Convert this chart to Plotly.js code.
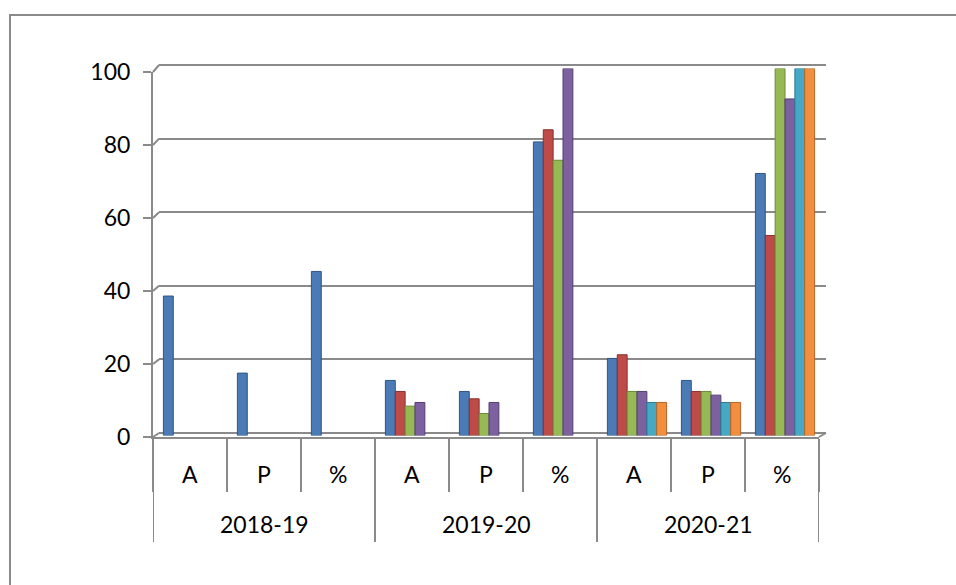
<!DOCTYPE html>
<html><head><meta charset="utf-8">
<script src="https://cdn.plot.ly/plotly-3.0.1.min.js"></script>
<style>
html,body{margin:0;padding:0;background:#fff;overflow:hidden;}
#chart{width:956px;height:585px;}
#frame{position:absolute;left:9px;top:14px;width:2000px;height:2000px;border-left:2px solid #8a8a8a;border-top:2px solid #8a8a8a;pointer-events:none;z-index:5;}
</style></head><body>
<div id="chart"></div><div id="frame"></div>
<script>
// ---- data ----
const years = ['2018-19', '2019-20', '2020-21'];
const subs = ['A', 'P', '%'];
const yTicks = [0, 20, 40, 60, 80, 100];
const series1 = [38, 17, 44.7, 15, 12, 80, 21, 15, 71.4];
const series2 = [null, null, null, 12, 10, 83.3, 22, 12, 54.5];
const series3 = [null, null, null, 8, 6, 75, 12, 12, 100];
const series4 = [null, null, null, 9, 9, 100, 12, 11, 91.7];
const series5 = [null, null, null, null, null, null, 9, 9, 100];
const series6 = [null, null, null, null, null, null, 9, 9, 100];
const seriesColors = ['#4a7bb7', '#bf4b48', '#97b955', '#7c60a0', '#45a8c4', '#f28f3f'];
const seriesEdges = ['#2f5582', '#8a302e', '#6a8a36', '#553f74', '#2b7a90', '#b8652a'];

// ---- geometry (pixels of the 956x585 page) ----
const L = 153, R = 826, T = 60, B = 437;
const PW = R - L, PH = B - T;
const px = v => (v - L) / PW;
const py = v => (B - v) / PH;
const frontX = [px(153), px(819)];
const backX = [px(159), px(826)];
const barX = [px(156), px(822)];
const frontY = [py(437), py(72)];
const backRange = [-0.5, 100.5];
const backY = [py(433 + 0.5 * 3.68), py(65 - 0.5 * 3.68)];
const barY = [py(435.5), py(68.5)];
const gray = '#8a8a8a';
const lw = 2;
const font = {family: 'Lato, "Open Sans", sans-serif', size: 23, color: '#000'};

const categories = [];
years.forEach(y => subs.forEach(s => categories.push(y + ' ' + s)));
const subLabels = [];
years.forEach(() => subs.forEach(s => subLabels.push(s)));

// empty helper trace so that the back-wall subplot (x2/y2) exists and draws its gridlines
const data = [{type: 'scatter', mode: 'lines', x: [], y: [], xaxis: 'x2', yaxis: 'y2',
  hoverinfo: 'skip', showlegend: false}];
const allSeries = [series1, series2, series3, series4, series5, series6];
allSeries.forEach((vals, i) => data.push({
  type: 'bar', x: categories, y: vals,
  xaxis: 'x3', yaxis: 'y3',
  marker: {color: seriesColors[i], line: {color: seriesEdges[i], width: 1}},
  hoverinfo: 'skip', showlegend: false
}));

// boundaries
const boundaries = [];
for (let i = 0; i <= categories.length; i++) boundaries.push(i - 0.5);

const shapes = [];
// group dividers (full depth of both label rows)
for (let g = 0; g <= years.length; g++) {
  shapes.push({type: 'line', xref: 'x', yref: 'paper', x0: g * subs.length - 0.5, x1: g * subs.length - 0.5,
    y0: 0, y1: py(542), line: {color: gray, width: lw}});
}
// 3D connectors between front axis and back wall
const frontPaper = v => frontY[0] + (frontY[1] - frontY[0]) * v / 100;
const backPaper = v => backY[0] + (backY[1] - backY[0]) * (v - backRange[0]) / (backRange[1] - backRange[0]);
yTicks.forEach(v => {
  shapes.push({type: 'line', xref: 'paper', yref: 'paper', x0: frontX[0], x1: backX[0],
    y0: frontPaper(v), y1: backPaper(v), line: {color: gray, width: lw}});
});
shapes.push({type: 'line', xref: 'paper', yref: 'paper', x0: frontX[1], x1: backX[1],
  y0: frontPaper(0), y1: backPaper(0), line: {color: gray, width: lw}});

const annotations = [];
categories.forEach((c, i) => {
  annotations.push({xref: 'x', yref: 'paper', x: i, y: py(474), text: subLabels[i],
    showarrow: false, xanchor: 'center', yanchor: 'middle', font: font});
});
years.forEach((y, g) => {
  annotations.push({xref: 'x', yref: 'paper', x: g * subs.length + (subs.length - 1) / 2, y: py(524), text: y,
    showarrow: false, xanchor: 'center', yanchor: 'middle', font: font});
});

const layout = {
  width: 956, height: 585,
  margin: {l: L, r: 956 - R, t: T, b: 585 - B, pad: 0},
  paper_bgcolor: '#fff', plot_bgcolor: 'rgba(0,0,0,0)',
  showlegend: false,
  barmode: 'group', bargap: 0.2, bargroupgap: 0,
  font: font,
  // front axes: labels, ticks, floor line
  xaxis: {type: 'linear', domain: frontX, range: [-0.5, categories.length - 0.5], anchor: 'y',
    showgrid: false, zeroline: false, showline: true, linecolor: gray, linewidth: lw,
    tickmode: 'array', tickvals: boundaries, ticks: 'outside', ticklen: 53, tickcolor: gray, tickwidth: lw,
    showticklabels: false, fixedrange: true},
  yaxis: {type: 'linear', domain: frontY, range: [0, 100], anchor: 'x',
    showgrid: false, zeroline: false, showline: true, linecolor: gray, linewidth: lw,
    tickmode: 'array', tickvals: yTicks, ticks: 'outside', ticklen: 8, tickcolor: gray, tickwidth: lw,
    ticklabelstandoff: 8, tickfont: font, fixedrange: true},
  // back wall: gridlines
  xaxis2: {type: 'linear', domain: backX, range: [0, 1], anchor: 'y2',
    showgrid: false, zeroline: false, showline: false, showticklabels: false, ticks: ''},
  yaxis2: {type: 'linear', domain: backY, range: backRange, anchor: 'x2',
    showgrid: true, gridcolor: gray, gridwidth: lw, zeroline: false, showline: false,
    tickmode: 'array', tickvals: yTicks, showticklabels: false, ticks: ''},
  // bars (mid depth)
  xaxis3: {type: 'category', domain: barX, range: [-0.5, categories.length - 0.5], anchor: 'y3', visible: false},
  yaxis3: {type: 'linear', domain: barY, range: [0, 100], anchor: 'x3', visible: false},
  shapes: shapes,
  annotations: annotations
};

Plotly.newPlot('chart', data, layout, {staticPlot: true, displayModeBar: false});
</script>
</body></html>
